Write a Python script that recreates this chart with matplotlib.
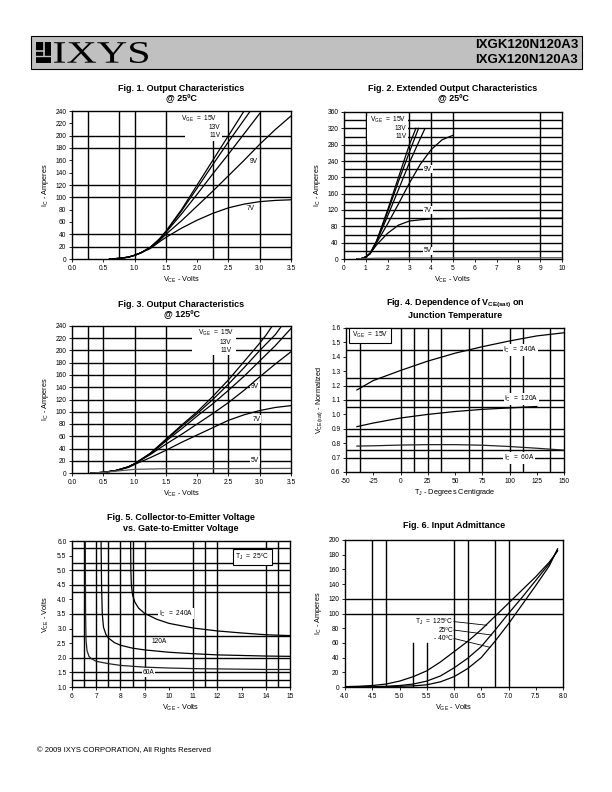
import matplotlib
matplotlib.use('Agg')
import matplotlib.pyplot as plt
from matplotlib.patches import Rectangle, PathPatch
from matplotlib.textpath import TextPath
from matplotlib.font_manager import FontProperties
from matplotlib.transforms import Affine2D
from matplotlib.ticker import FormatStrFormatter

plt.rcParams['font.family'] = ['Liberation Sans', 'DejaVu Sans']
plt.rcParams['mathtext.fontset'] = 'custom'
plt.rcParams['mathtext.rm'] = 'Liberation Sans'
plt.rcParams['mathtext.it'] = 'Liberation Sans'
plt.rcParams['mathtext.bf'] = 'Liberation Sans:bold'
plt.rcParams['axes.unicode_minus'] = False

# ---- Fig 1: output characteristics @ 25C
f1_vce_15 = [0.6, 0.75, 0.9, 1.0, 1.1, 1.25, 1.4, 1.5, 1.75, 2.0, 2.25, 2.5, 2.75]
f1_ic_15 = [0, 1, 3, 6, 10, 19, 33, 45, 80, 120, 160, 200, 240]
f1_vce_13 = [0.6, 0.75, 0.9, 1.0, 1.1, 1.25, 1.4, 1.5, 1.75, 2.0, 2.25, 2.5, 2.85]
f1_ic_13 = [0, 1, 3, 6, 10, 19, 32, 44, 78, 115, 153, 190, 240]
f1_vce_11 = [0.6, 0.75, 0.9, 1.0, 1.1, 1.25, 1.4, 1.5, 1.75, 2.0, 2.25, 2.5, 2.75, 3.0]
f1_ic_11 = [0, 1, 3, 6, 10, 18, 31, 43, 73, 105, 138, 170, 203, 236]
f1_vce_9 = [0.6, 0.75, 0.9, 1.0, 1.1, 1.25, 1.4, 1.5, 1.75, 2.0, 2.25, 2.5, 2.75, 3.0, 3.25, 3.5]
f1_ic_9 = [0, 1, 3, 6, 10, 18, 30, 40, 62, 86, 110, 135, 160, 186, 210, 232]
f1_vce_7 = [0.6, 0.75, 0.9, 1.0, 1.1, 1.25, 1.4, 1.5, 1.75, 2.0, 2.25, 2.5, 2.75, 3.0, 3.25, 3.5]
f1_ic_7 = [0, 1, 3, 6, 10, 17, 28, 35, 50, 63, 74, 83, 89, 93, 95, 96]

# ---- Fig 2: extended output characteristics @ 25C
f2_vce_15 = [0.6, 0.8, 1.0, 1.2, 1.5, 2.0, 2.5, 3.0, 3.3]
f2_ic_15 = [0, 1, 5, 14, 45, 120, 200, 280, 320]
f2_vce_13 = [0.6, 0.8, 1.0, 1.2, 1.5, 2.0, 2.5, 3.0, 3.42]
f2_ic_13 = [0, 1, 5, 14, 44, 115, 190, 262, 320]
f2_vce_11 = [0.6, 0.8, 1.0, 1.2, 1.5, 2.0, 2.5, 3.0, 3.5, 3.7]
f2_ic_11 = [0, 1, 5, 13, 43, 105, 170, 236, 295, 318]
f2_vce_9 = [0.6, 0.8, 1.0, 1.2, 1.5, 2.0, 2.5, 3.0, 3.5, 4.0, 4.5, 5.0]
f2_ic_9 = [0, 1, 5, 13, 40, 86, 135, 186, 232, 268, 292, 303]
f2_vce_7 = [0.6, 0.8, 1.0, 1.25, 1.5, 2.0, 2.5, 3.0, 3.5, 4.0, 5.0, 6.0, 8.0, 10.0]
f2_ic_7 = [0, 1, 5, 17, 35, 63, 83, 93, 96, 98, 99, 99.5, 100, 100]
f2_vce_5 = [0.6, 1.0, 1.5, 2.0, 3.0, 5.0, 10.0]
f2_ic_5 = [0, 1, 2, 2, 2.5, 2.5, 3]

# ---- Fig 3: output characteristics @ 125C
f3_vce_15 = [0.3, 0.5, 0.7, 0.9, 1.0, 1.25, 1.5, 1.75, 2.0, 2.25, 2.5, 2.75, 3.0, 3.1, 3.2]
f3_ic_15 = [0, 1, 4, 10, 15, 32, 55, 78, 100, 125, 152, 182, 212, 225, 240]
f3_vce_13 = [0.3, 0.5, 0.7, 0.9, 1.0, 1.25, 1.5, 1.75, 2.0, 2.25, 2.5, 2.75, 3.0, 3.25, 3.35]
f3_ic_13 = [0, 1, 4, 10, 15, 32, 54, 76, 97, 120, 145, 172, 200, 226, 240]
f3_vce_11 = [0.3, 0.5, 0.7, 0.9, 1.0, 1.25, 1.5, 1.75, 2.0, 2.25, 2.5, 2.75, 3.0, 3.25, 3.5]
f3_ic_11 = [0, 1, 4, 10, 15, 31, 52, 72, 93, 113, 135, 158, 183, 208, 236]
f3_vce_9 = [0.3, 0.5, 0.7, 0.9, 1.0, 1.25, 1.5, 1.75, 2.0, 2.25, 2.5, 2.75, 3.0, 3.25, 3.5]
f3_ic_9 = [0, 1, 4, 10, 15, 30, 47, 63, 80, 97, 115, 135, 157, 178, 198]
f3_vce_7 = [0.3, 0.5, 0.7, 0.9, 1.0, 1.25, 1.5, 1.75, 2.0, 2.25, 2.5, 2.75, 3.0, 3.25, 3.5]
f3_ic_7 = [0, 1, 4, 9, 14, 25, 37, 50, 62, 74, 86, 95, 102, 107, 110]
f3_vce_5 = [0.3, 0.5, 0.7, 0.9, 1.0, 1.5, 2.0, 3.5]
f3_ic_5 = [0, 1, 3, 5, 6, 7, 7, 7.5]

# ---- Fig 4: VCE(sat) vs junction temperature
f4_tj = [-40, -25, 0, 25, 50, 75, 100, 125, 150]
f4_vce_240 = [1.17, 1.235, 1.305, 1.37, 1.425, 1.47, 1.51, 1.545, 1.567]
f4_tj_120 = [-40, -25, 0, 25, 50, 75, 100, 125]
f4_vce_120 = [0.915, 0.94, 0.975, 1.0, 1.02, 1.035, 1.045, 1.055]
f4_vce_60 = [0.78, 0.782, 0.787, 0.79, 0.79, 0.786, 0.777, 0.765, 0.752]

# ---- Fig 5: VCE vs VGE
f5_vge_240 = [8.42, 8.43, 8.45, 8.5, 8.6, 8.75, 9.0, 9.5, 10, 11, 12, 13, 14, 15]
f5_vce_240 = [6.0, 5.0, 4.5, 4.15, 3.9, 3.7, 3.52, 3.32, 3.18, 3.02, 2.92, 2.85, 2.79, 2.76]
f5_vge_120 = [7.2, 7.22, 7.25, 7.3, 7.4, 7.5, 7.75, 8.0, 8.5, 9, 10, 11, 12, 13, 14, 15]
f5_vce_120 = [6.0, 4.5, 3.5, 3.05, 2.8, 2.68, 2.52, 2.43, 2.33, 2.27, 2.19, 2.14, 2.1, 2.08, 2.06, 2.05]
f5_vge_60 = [6.55, 6.56, 6.58, 6.62, 6.7, 6.8, 7.0, 7.5, 8, 9, 10, 11, 12, 13, 14, 15]
f5_vce_60 = [6.0, 3.5, 2.6, 2.25, 2.05, 1.97, 1.88, 1.8, 1.74, 1.68, 1.65, 1.63, 1.62, 1.61, 1.6, 1.6]

# ---- Fig 6: input admittance
f6_vge = [4.0, 4.25, 4.5, 4.75, 5.0, 5.25, 5.5, 5.75, 6.0, 6.25, 6.5, 6.75, 7.0, 7.25, 7.5, 7.75, 7.9]
f6_ic_125 = [0.5, 1, 2, 4, 8, 14, 22, 34, 48, 62, 78, 96, 114, 132, 150, 170, 185]
f6_ic_25 = [0, 0, 0.5, 1, 2, 4, 8, 15, 26, 39, 55, 77, 100, 122, 145, 168, 186]
f6_ic_m40 = [0, 0, 0, 0.3, 1, 1.5, 3, 7, 14, 25, 40, 62, 86, 112, 138, 165, 188]

W, H = 612, 792
fig = plt.figure(figsize=(6.12, 7.92), dpi=100)

page = fig.add_axes([0, 0, 1, 1])
page.set_xlim(0, W)
page.set_ylim(H, 0)
page.axis('off')

# header bar
page.add_patch(Rectangle((31, 36), 551, 33, fc='#c0c0c0', ec='black', lw=0.8))
page.add_patch(Rectangle((36, 42), 15, 21, fc='black', ec='none'))
page.plot([43.5, 43.5], [42, 56], color='#c0c0c0', lw=1.2)
page.plot([36, 43.5], [51, 51], color='#c0c0c0', lw=1.2)
page.plot([36, 51], [56, 56], color='#c0c0c0', lw=1.0)
# stretched serif logotype
tp = TextPath((0, 0), 'IXYS', size=1, prop=FontProperties(family='Liberation Serif'))
ext = tp.get_extents()
sx = 94 / ext.width
sy = 21 / ext.height
tr = Affine2D().translate(-ext.x0, -ext.y0).scale(sx, -sy).translate(54, 63)
page.add_patch(PathPatch(tr.transform_path(tp), fc='black', ec='none'))
page.text(578, 45, 'IXGK120N120A3', fontsize=9.5, fontweight='bold', ha='right', va='center')
page.text(578, 60, 'IXGX120N120A3', fontsize=9.5, fontweight='bold', ha='right', va='center')
page.text(37, 750, '\u00a9 2009 IXYS CORPORATION, All Rights Reserved', fontsize=5.5, va='center')


def make_ax(x0, y0, x1, y1, title, ty):
    ax = fig.add_axes([x0 / W, 1 - y1 / H, (x1 - x0) / W, (y1 - y0) / H])
    for s in ax.spines.values():
        s.set_linewidth(1.0)
    ax.tick_params(direction='out', length=2, width=0.6, labelsize=4.8, pad=2)
    page.text((x0 + x1) / 2, ty, title, fontsize=6.5, fontweight='bold',
              ha='center', va='center', linespacing=1.15)
    return ax


def labels(ax, xl, yl):
    ax.set_xlabel(xl, fontsize=5.3)
    ax.set_ylabel(yl, fontsize=5.3)
    ax.xaxis.set_label_coords(0.5, -0.105)
    ax.yaxis.set_label_coords(-0.095, 0.5)


def hl(ax, y, x0, x1):
    ax.plot([x0, x1], [y, y], color='black', lw=1.0, zorder=1)


def vl(ax, x, y0, y1):
    ax.plot([x, x], [y0, y1], color='black', lw=1.0, zorder=1)


def curve(ax, x, y, c='black'):
    ax.plot(x, y, color=c, lw=0.9, zorder=4)


def lab(ax, x, y, s, ha='center', box=True):
    kw = dict(fc='white', ec='none', pad=0.6) if box else None
    ax.text(x, y, s, fontsize=4.8, ha=ha, va='center', bbox=kw, zorder=3)


# ---------------- Fig 1
ax1 = make_ax(72, 111, 291, 259, 'Fig. 1. Output Characteristics\n@ 25\u00baC', 94)
ax1.set_xlim(0, 3.5)
ax1.set_ylim(0, 240)
ax1.set_xticks([0, 0.5, 1.0, 1.5, 2.0, 2.5, 3.0, 3.5])
ax1.set_yticks(range(0, 241, 20))
ax1.xaxis.set_major_formatter(FormatStrFormatter('%.1f'))
for x in [0.25, 0.75, 1.0, 1.5, 2.5, 3.0]:
    vl(ax1, x, 0, 240)
vl(ax1, 2.25, 0, 192)
for y in [20, 40, 100, 120, 180, 200]:
    hl(ax1, y, 0, 3.5)
ax1.add_patch(Rectangle((1.81, 192), 0.59, 48, fc='white', ec='none', zorder=2))
curve(ax1, f1_vce_15, f1_ic_15)
curve(ax1, f1_vce_13, f1_ic_13)
curve(ax1, f1_vce_11, f1_ic_11)
curve(ax1, f1_vce_9, f1_ic_9)
curve(ax1, f1_vce_7, f1_ic_7)
lab(ax1, 2.32, 227, r'V$_{\rm GE}$  =  15V', ha='right', box=False)
lab(ax1, 2.37, 213, '13V', ha='right', box=False)
lab(ax1, 2.37, 200, '11V', ha='right', box=False)
lab(ax1, 2.9, 158, '9V')
lab(ax1, 2.86, 82, '7V')
labels(ax1, r'V$_{\rm CE}$ - Volts', r'I$_{\rm C}$ - Amperes')

# ---------------- Fig 2
ax2 = make_ax(344, 112, 562, 259, 'Fig. 2. Extended Output Characteristics\n@ 25\u00baC', 94)
ax2.set_xlim(0, 10)
ax2.set_ylim(0, 360)
ax2.set_xticks(range(0, 11))
ax2.set_yticks(range(0, 361, 40))
for x in [1, 3, 4, 5, 9]:
    vl(ax2, x, 0, 360)
for y in range(20, 341, 20):
    hl(ax2, y, 0, 10)
ax2.add_patch(Rectangle((1.05, 290), 1.87, 60, fc='white', ec='none', zorder=2))
curve(ax2, f2_vce_15, f2_ic_15)
curve(ax2, f2_vce_13, f2_ic_13)
curve(ax2, f2_vce_11, f2_ic_11)
curve(ax2, f2_vce_9, f2_ic_9)
curve(ax2, f2_vce_7, f2_ic_7)
curve(ax2, f2_vce_5, f2_ic_5, c='#555555')
lab(ax2, 2.87, 340, r'V$_{\rm GE}$  =  15V', ha='right', box=False)
lab(ax2, 2.87, 320, '13V', ha='right', box=False)
lab(ax2, 2.87, 300, '11V', ha='right', box=False)
lab(ax2, 3.85, 220, '9V')
lab(ax2, 3.85, 120, '7V')
lab(ax2, 3.85, 20, '5V')
labels(ax2, r'V$_{\rm CE}$ - Volts', r'I$_{\rm C}$ - Amperes')

# ---------------- Fig 3
ax3 = make_ax(72, 326, 291, 473, 'Fig. 3. Output Characteristics\n@ 125\u00baC', 310)
ax3.set_xlim(0, 3.5)
ax3.set_ylim(0, 240)
ax3.set_xticks([0, 0.5, 1.0, 1.5, 2.0, 2.5, 3.0, 3.5])
ax3.set_yticks(range(0, 241, 20))
ax3.xaxis.set_major_formatter(FormatStrFormatter('%.1f'))
for x in [0.25, 0.5, 1.0, 1.5, 2.5, 3.0]:
    vl(ax3, x, 0, 240)
vl(ax3, 2.25, 0, 193)
for y in range(20, 221, 20):
    hl(ax3, y, 0, 3.5)
ax3.add_patch(Rectangle((1.92, 193), 0.7, 47, fc='white', ec='none', zorder=2))
curve(ax3, f3_vce_15, f3_ic_15)
curve(ax3, f3_vce_13, f3_ic_13)
curve(ax3, f3_vce_11, f3_ic_11)
curve(ax3, f3_vce_9, f3_ic_9)
curve(ax3, f3_vce_7, f3_ic_7)
curve(ax3, f3_vce_5, f3_ic_5, c='#555555')
lab(ax3, 2.6, 228, r'V$_{\rm GE}$  =  15V', ha='right', box=False)
lab(ax3, 2.55, 213, '13V', ha='right', box=False)
lab(ax3, 2.55, 200, '11V', ha='right', box=False)
lab(ax3, 2.92, 142, '9V')
lab(ax3, 2.95, 88, '7V')
lab(ax3, 2.92, 21, '5V')
labels(ax3, r'V$_{\rm CE}$ - Volts', r'I$_{\rm C}$ - Amperes')

# ---------------- Fig 4
ax4 = make_ax(346, 328, 564, 472,
              'Fig. 4. Dependence of V$_{\\mathbf{CE(sat)}}$ on\nJunction Temperature', 308)
ax4.set_xlim(-50, 150)
ax4.set_ylim(0.6, 1.6)
ax4.set_xticks(range(-50, 151, 25))
ax4.set_yticks([0.6, 0.7, 0.8, 0.9, 1.0, 1.1, 1.2, 1.3, 1.4, 1.5, 1.6])
ax4.yaxis.set_major_formatter(FormatStrFormatter('%.1f'))
for x in [-37.5, 0, 12.5, 25, 37.5, 62.5, 75, 100, 112.5, 137.5]:
    vl(ax4, x, 0.6, 1.6)
for y in [1.45, 1.25, 1.2, 1.1, 1.05, 0.9, 0.85, 0.75, 0.7]:
    hl(ax4, y, -50, 150)
curve(ax4, f4_tj, f4_vce_240)
curve(ax4, f4_tj_120, f4_vce_120)
curve(ax4, f4_tj, f4_vce_60, c='#222222')
lab(ax4, 110, 1.45, r'I$_{\rm C}$  =  240A')
lab(ax4, 111, 1.105, r'I$_{\rm C}$  =  120A')
lab(ax4, 109, 0.70, r'I$_{\rm C}$  =  60A')
ax4.text(-28, 1.55, r'V$_{\rm GE}$  =  15V', fontsize=4.8, ha='center', va='center', zorder=5,
         bbox=dict(fc='white', ec='black', lw=0.8, pad=1.8))
labels(ax4, r'T$_{\rm J}$ - Degrees Centigrade', r'V$_{\rm CE(sat)}$ - Normalized')

# ---------------- Fig 5
ax5 = make_ax(72, 541, 290, 687, 'Fig. 5. Collector-to-Emitter Voltage\nvs. Gate-to-Emitter Voltage', 523)
ax5.set_xlim(6, 15)
ax5.set_ylim(1.0, 6.0)
ax5.set_xticks(range(6, 16))
ax5.set_yticks([1.0, 1.5, 2.0, 2.5, 3.0, 3.5, 4.0, 4.5, 5.0, 5.5, 6.0])
ax5.yaxis.set_major_formatter(FormatStrFormatter('%.1f'))
for x in [6.5, 7.0, 7.5, 8.0, 8.5, 9.0, 11.0, 11.5, 12.0, 14.0, 14.5]:
    vl(ax5, x, 1.0, 6.0)
for y in [5.75, 5.25, 5.0, 4.5, 4.25, 2.75, 2.0, 1.5, 1.25]:
    hl(ax5, y, 6, 15)
hl(ax5, 3.5, 6, 9.5)
curve(ax5, f5_vge_240, f5_vce_240)
curve(ax5, f5_vge_120, f5_vce_120)
curve(ax5, f5_vge_60, f5_vce_60, c='#222222')
lab(ax5, 9.6, 3.52, r'I$_{\rm C}$  =  240A', ha='left')
lab(ax5, 9.58, 2.56, '120A', box=False)
lab(ax5, 9.15, 1.5, '60A')
ax5.text(13.45, 5.45, 'T$_{\\rm J}$  =  25\u00baC', fontsize=4.8,
         ha='center', va='center', zorder=5, bbox=dict(fc='white', ec='black', lw=0.8, pad=1.8))
labels(ax5, r'V$_{\rm GE}$ - Volts', r'V$_{\rm CE}$ - Volts')

# ---------------- Fig 6
ax6 = make_ax(345, 540, 563, 687, 'Fig. 6. Input Admittance', 525)
ax6.set_xlim(4.0, 8.0)
ax6.set_ylim(0, 200)
ax6.set_xticks([4.0, 4.5, 5.0, 5.5, 6.0, 6.5, 7.0, 7.5, 8.0])
ax6.set_yticks(range(0, 201, 20))
ax6.xaxis.set_major_formatter(FormatStrFormatter('%.1f'))
for x in [4.5, 4.75, 6.0, 6.25, 6.75, 7.0]:
    vl(ax6, x, 0, 200)
for x in [5.25, 5.5]:
    vl(ax6, x, 0, 60)
for y in [100, 120]:
    hl(ax6, y, 4.0, 8.0)
curve(ax6, f6_vge, f6_ic_125)
curve(ax6, f6_vge, f6_ic_25)
curve(ax6, f6_vge, f6_ic_m40)
lab(ax6, 5.98, 89, 'T$_{\\rm J}$  =  125\u00baC', ha='right', box=False)
lab(ax6, 5.98, 77.5, '25\u00baC', ha='right', box=False)
lab(ax6, 5.98, 66, '- 40\u00baC', ha='right', box=False)
ax6.plot([6.0, 6.6], [89, 84], color='black', lw=0.6, zorder=3)
ax6.plot([6.0, 6.69], [77.5, 70.7], color='black', lw=0.6, zorder=3)
ax6.plot([6.0, 6.66], [66, 54], color='black', lw=0.6, zorder=3)
labels(ax6, r'V$_{\rm GE}$ - Volts', r'I$_{\rm C}$ - Amperes')

fig.savefig('out.png', dpi=100)
